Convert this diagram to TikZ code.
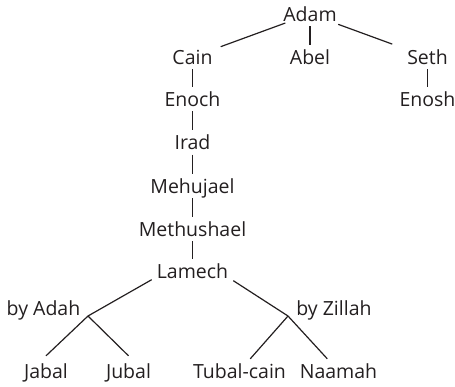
\documentclass[tikz,border=0pt]{standalone}
\usepackage{fontspec}
\setmainfont{Open Sans}
\usetikzlibrary{calc}
\definecolor{ink}{RGB}{35,31,32}
\begin{document}
\begin{tikzpicture}[x=1pt,y=-1pt,
  person/.style={anchor=base, font=\fontsize{19.5}{22}\selectfont, text=ink,
    inner xsep=2pt, inner ysep=3pt, text height=16pt, text depth=2pt},
  link/.style={draw=ink, line width=1.2pt}]
\useasboundingbox (0,0) rectangle (455,386);
% nodes
\node[person] (Adam) at (310,21) {Adam};
\node[person] (Cain) at (192.5,64) {Cain};
\node[person] (Abel) at (310,64) {Abel};
\node[person] (Seth) at (427.5,64) {Seth};
\node[person] (Enoch) at (192.5,106) {Enoch};
\node[person] (Enosh) at (427.5,106) {Enosh};
\node[person] (Irad) at (192.5,149.5) {Irad};
\node[person] (Mehujael) at (192.5,193) {Mehujael};
\node[person] (Methushael) at (192.5,236) {Methushael};
\node[person] (Lamech) at (192.5,278.5) {Lamech};
\node[person] (byAdah) at (43.5,315) {by Adah};
\node[person] (byZillah) at (334,315) {by Zillah};
\node[person] (Jabal) at (46,378) {Jabal};
\node[person] (Jubal) at (128.5,378) {Jubal};
\node[person] (Tubal) at (239.5,378) {Tubal-cain};
\node[person] (Naamah) at (338.5,378) {Naamah};
\coordinate (jA) at (88,316);
\coordinate (jZ) at (288,316);
% connectors
\draw[link] ($(Adam)!0.21!(Cain)$) -- ($(Adam)!0.76!(Cain)$);
\draw[link] (Adam) -- (Abel);
\draw[link] ($(Adam)!0.24!(Seth)$) -- ($(Adam)!0.70!(Seth)$);
\draw[link] (Cain) -- (Enoch);
\draw[link] (Seth) -- (Enosh);
\draw[link] (Enoch) -- (Irad);
\draw[link] (Irad) -- (Mehujael);
\draw[link] (Mehujael) -- (Methushael);
\draw[link] (Methushael) -- (Lamech);
\draw[link] ([xshift=-3pt,yshift=4pt]Lamech.south west) -- (jA);
\draw[link] ([xshift=3pt,yshift=3pt]Lamech.south east) -- (jZ);
\draw[link] (jA) -- ([yshift=3pt]Jabal.north);
\draw[link] (jA) -- ([yshift=3pt]Jubal.north);
\draw[link] (jZ) -- (Tubal);
\draw[link] (jZ) -- (Naamah);
\end{tikzpicture}
\end{document}
